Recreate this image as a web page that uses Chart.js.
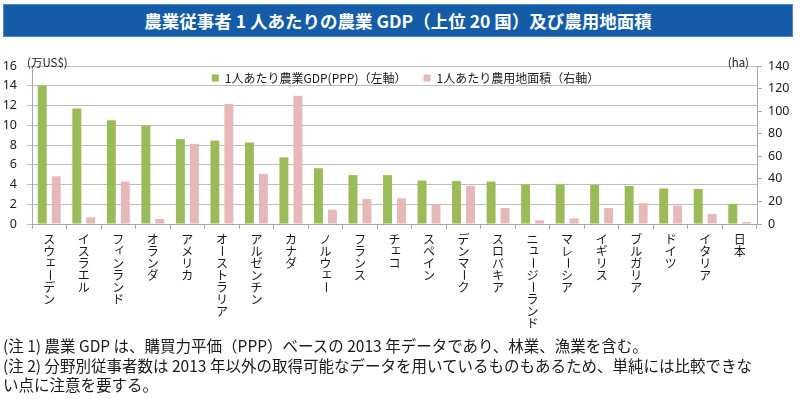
<!DOCTYPE html>
<html lang="ja">
<head>
<meta charset="utf-8">
<script src="https://cdn.jsdelivr.net/npm/chart.js@4.4.1/dist/chart.umd.min.js"></script>
<style>
  html, body { margin: 0; padding: 0; background: #fff; }
  body { width: 800px; height: 399px; position: relative; overflow: hidden; font-family: 'Noto Sans CJK JP', sans-serif; color: #1a1a1a; }
  #title { position: absolute; left: 3px; top: 4px; width: 788px; height: 31px; background: #155ca8; border: 1px solid #4f88c6; color: #fff; font-weight: bold; font-size: 17.5px; line-height: 31px; text-align: center; }
  #wrap { position: absolute; left: 0; top: 0; width: 800px; height: 340px; }
  .unit { position: absolute; top: 54px; font-size: 11.5px; line-height: 16px; white-space: nowrap; }
  #notes { position: absolute; left: 3px; top: 336px; font-size: 15.5px; line-height: 19.5px; white-space: nowrap; }
</style>
</head>
<body>
<div id="title">農業従事者 1 人あたりの農業 GDP（上位 20 国）及び農用地面積</div>
<div id="wrap"><canvas id="chart" width="800" height="340"></canvas></div>
<div class="unit" style="left:27px;">(万US$)</div>
<div class="unit" style="right:51px;">(ha)</div>
<div id="notes">
  (注 1) 農業 GDP は、購買力平価（PPP）ベースの 2013 年データであり、林業、漁業を含む。<br>
  (注 2) 分野別従事者数は 2013 年以外の取得可能なデータを用いているものもあるため、単純には比較できな<br>
  い点に注意を要する。
</div>
<script>
const countries = ['スウェーデン', 'イスラエル', 'フィンランド', 'オランダ', 'アメリカ', 'オーストラリア', 'アルゼンチン',
  'カナダ', 'ノルウェー', 'フランス', 'チェコ', 'スペイン', 'デンマーク', 'スロバキア', 'ニュージーランド',
  'マレーシア', 'イギリス', 'ブルガリア', 'ドイツ', 'イタリア', '日本'];
// 1人あたり農業GDP (万US$, 左軸)
const gdpPerWorker = [14.0, 11.7, 10.5, 9.95, 8.6, 8.45, 8.25, 6.75, 5.65, 4.95, 4.95,
  4.4, 4.35, 4.3, 4.0, 4.0, 3.95, 3.85, 3.6, 3.55, 2.05];
// 1人あたり農用地面積 (ha, 右軸)
const landPerWorker = [42.3, 5.9, 37.6, 4.4, 71, 106.3, 44.4, 113.7, 12.7, 22.2, 22.8,
  17.5, 33.8, 14.2, 3.3, 5, 14.2, 18.4, 16.3, 8.9, 1.8];
const seriesNames = ['1人あたり農業GDP(PPP)（左軸）', '1人あたり農用地面積（右軸）'];
const leftMax = 16, leftStep = 2;
const rightMax = 140, rightStep = 20;

const gridColor = '#bdbdbd';
const axisColor = '#a8a8a8';
const textColor = '#1a1a1a';

// katakana names are written top to bottom, like the original
const verticalLabels = {
  id: 'verticalLabels',
  afterDraw(chart) {
    const ctx = chart.ctx;
    const xScale = chart.scales.x;
    const top = chart.chartArea.bottom + 9;
    const pitch = 12;
    ctx.save();
    ctx.font = '12px "Noto Sans CJK JP"';
    ctx.fillStyle = textColor;
    ctx.textAlign = 'center';
    ctx.textBaseline = 'middle';
    chart.data.labels.forEach((name, i) => {
      const cx = xScale.getPixelForValue(i);
      [...name].forEach((ch, k) => {
        const cy = top + k * pitch + pitch / 2;
        if (ch === 'ー') {
          ctx.save();
          ctx.translate(cx, cy);
          ctx.rotate(Math.PI / 2);
          ctx.fillText(ch, 0, 0);
          ctx.restore();
        } else if ('ァィゥェォッャュョ'.includes(ch)) {
          ctx.fillText(ch, cx + 1.5, cy - 1.5);
        } else {
          ctx.fillText(ch, cx, cy);
        }
      });
    });
    ctx.restore();
  }
};

// legend sits inside the plot, just under the top line
const innerLegend = {
  id: 'innerLegend',
  afterDraw(chart) {
    const ctx = chart.ctx;
    const area = chart.chartArea;
    const box = 7, textGap = 6, itemGap = 17;
    ctx.save();
    ctx.font = '12px "Noto Sans CJK JP"';
    const items = chart.data.datasets.map(ds => ({
      text: ds.label,
      color: ds.backgroundColor,
      w: box + textGap + ctx.measureText(ds.label).width
    }));
    const total = items.reduce((s, it) => s + it.w, 0) + itemGap * (items.length - 1);
    let x = (area.left + area.right) / 2 + 11 - total / 2;
    const y = area.top + 12;
    ctx.textBaseline = 'middle';
    items.forEach(it => {
      ctx.fillStyle = it.color;
      ctx.fillRect(x, y - box / 2, box, box);
      ctx.fillStyle = textColor;
      ctx.fillText(it.text, x + box + textGap, y);
      x += it.w + itemGap;
    });
    ctx.restore();
  }
};

new Chart(document.getElementById('chart'), {
  type: 'bar',
  data: {
    labels: countries,
    datasets: [{
      label: seriesNames[0],
      data: gdpPerWorker,
      backgroundColor: '#9bbb59',
      yAxisID: 'y',
      categoryPercentage: 0.81,
      barPercentage: 0.64
    }, {
      label: seriesNames[1],
      data: landPerWorker,
      backgroundColor: '#e6b9b8',
      yAxisID: 'y1',
      categoryPercentage: 0.81,
      barPercentage: 0.64
    }]
  },
  options: {
    responsive: false,
    animation: false,
    devicePixelRatio: 1,
    layout: { padding: { top: 66, left: 0, right: 0, bottom: 0 } },
    plugins: {
      legend: { display: false },
      tooltip: { enabled: false }
    },
    scales: {
      x: {
        grid: { offset: true, drawOnChartArea: false, drawTicks: true, tickLength: 5, color: axisColor },
        border: { display: true, color: axisColor },
        ticks: { display: false },
        afterFit: (scale) => { scale.height = 116; }
      },
      y: {
        position: 'left',
        min: 0,
        max: leftMax,
        ticks: { stepSize: leftStep, padding: 10, color: textColor, font: { family: 'Noto Sans', size: 12.5 } },
        grid: { color: gridColor, tickLength: 5 },
        border: { display: true, color: axisColor },
        afterFit: (scale) => { scale.width = 32; }
      },
      y1: {
        position: 'right',
        min: 0,
        max: rightMax,
        ticks: { stepSize: rightStep, padding: 6, color: textColor, font: { family: 'Noto Sans', size: 12.5 } },
        grid: { drawOnChartArea: false, color: axisColor, tickLength: 5 },
        border: { display: true, color: axisColor },
        afterFit: (scale) => { scale.width = 43; }
      }
    }
  },
  plugins: [verticalLabels, innerLegend]
});
</script>
</body>
</html>
